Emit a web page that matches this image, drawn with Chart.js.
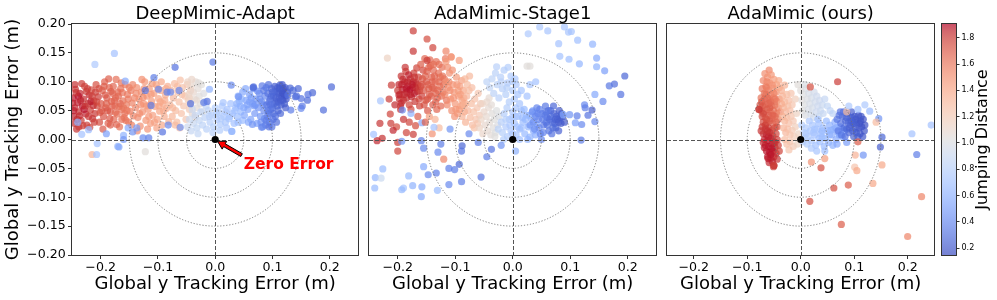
<!DOCTYPE html>
<html><head><meta charset="utf-8">
<script src="https://cdn.jsdelivr.net/npm/chart.js@4.4.1/dist/chart.umd.min.js"></script>
<style>
html,body{margin:0;padding:0;background:#fff;}
#wrap{position:relative;width:997px;height:300px;overflow:hidden;background:#fff;}
canvas{position:absolute;top:0;}
</style></head><body>
<div id="wrap">
<canvas id="c1" width="362" height="300" style="left:0px"></canvas>
<canvas id="c2" width="300" height="300" style="left:360px"></canvas>
<canvas id="c3" width="276" height="300" style="left:662px"></canvas>
<canvas id="cb" width="59" height="300" style="left:938px"></canvas>
</div>
<script>
// ---------------- DATA ----------------
const panelTitles = ['DeepMimic-Adapt', 'AdaMimic-Stage1', 'AdaMimic (ours)'];
const axisLabel = 'Global y Tracking Error (m)';
const colorbarLabel = 'Jumping Distance';
const xTickValues = [-0.2, -0.1, 0, 0.1, 0.2];
const xTickLabels = ['\u22120.2', '\u22120.1', '0.0', '0.1', '0.2'];
const yTickValues = [-0.2, -0.15, -0.1, -0.05, 0, 0.05, 0.1, 0.15, 0.2];
const yTickLabels = ['\u22120.20', '\u22120.15', '\u22120.10', '\u22120.05', '0.00', '0.05', '0.10', '0.15', '0.20'];
const colorbarTicks = [0.2, 0.4, 0.6, 0.8, 1.0, 1.2, 1.4, 1.6, 1.8];
const colorbarRange = [0.149, 1.904];
const circleRadii = [0.05, 0.1, 0.15];
const zeroErrorText = 'Zero Error';

// each point: [x error, y error, jumping distance]
const deepMimicPoints = [
[-0.248,0.072,1.88],[-0.245,0.055,1.85],[-0.247,0.040,1.86],[-0.244,0.087,1.82],[-0.246,0.028,1.84],[-0.240,0.064,1.87],[-0.238,0.048,1.83],[-0.236,0.080,1.85],[-0.234,0.033,1.80],[-0.232,0.058,1.88],[-0.230,0.070,1.84],[-0.228,0.092,1.78],[-0.226,0.044,1.86],[-0.224,0.025,1.79],[-0.222,0.062,1.82],[-0.220,0.077,1.85],[-0.218,0.051,1.80],[-0.216,0.086,1.76],[-0.214,0.036,1.83],[-0.212,0.067,1.78],[-0.210,0.045,1.81],[-0.208,0.095,1.74],[-0.206,0.058,1.77],[-0.204,0.074,1.80],[-0.202,0.030,1.75],[-0.242,0.018,1.82],[-0.233,0.097,1.80],[-0.219,0.021,1.77],[-0.239,0.075,1.90],[-0.229,0.052,1.89],[-0.249,0.063,1.86],[-0.213,0.059,1.84],[-0.225,0.083,1.81],[-0.209,0.082,1.79],[-0.237,0.041,1.85],[-0.217,0.066,1.87],[-0.201,0.047,1.74],[-0.243,0.081,1.83],[-0.231,0.024,1.79],
[-0.247,0.050,1.87],[-0.241,0.035,1.84],[-0.235,0.068,1.86],[-0.227,0.058,1.83],[-0.221,0.040,1.82],[-0.215,0.075,1.80],[-0.207,0.065,1.78],[-0.203,0.088,1.76],[-0.211,0.030,1.79],[-0.223,0.088,1.80],[-0.245,0.095,1.83],[-0.238,0.022,1.81],
[-0.199,0.062,1.72],[-0.197,0.085,1.70],[-0.195,0.040,1.73],[-0.193,0.100,1.68],[-0.191,0.055,1.70],[-0.189,0.072,1.71],[-0.187,0.028,1.68],[-0.185,0.090,1.67],[-0.183,0.048,1.69],[-0.181,0.066,1.66],[-0.179,0.080,1.67],[-0.177,0.035,1.65],[-0.175,0.058,1.66],[-0.173,0.104,1.63],[-0.171,0.044,1.64],[-0.169,0.075,1.65],[-0.167,0.022,1.62],[-0.165,0.088,1.63],[-0.163,0.052,1.61],[-0.161,0.067,1.62],[-0.159,0.038,1.60],[-0.157,0.095,1.60],[-0.155,0.060,1.59],[-0.153,0.078,1.60],[-0.151,0.030,1.58],[-0.149,0.049,1.57],[-0.147,0.085,1.58],[-0.145,0.063,1.56],[-0.143,0.041,1.56],[-0.141,0.072,1.55],[-0.196,0.018,1.71],[-0.186,0.105,1.69],[-0.178,0.092,1.66],[-0.172,0.026,1.67],[-0.164,0.098,1.62],[-0.158,0.045,1.63],[-0.152,0.070,1.60],[-0.146,0.025,1.57],[-0.188,0.050,1.73],[-0.182,0.083,1.70],[-0.176,0.068,1.68],[-0.168,0.057,1.64],[-0.162,0.081,1.61],[-0.156,0.033,1.61],[-0.192,0.077,1.72],[-0.184,0.036,1.71],[-0.174,0.047,1.65],[-0.166,0.062,1.66],
[-0.198,0.050,1.72],[-0.190,0.062,1.70],[-0.180,0.058,1.68],[-0.170,0.082,1.65],[-0.160,0.055,1.62],[-0.150,0.090,1.58],[-0.194,0.092,1.70],[-0.183,0.025,1.70],[-0.174,0.072,1.66],[-0.163,0.035,1.63],[-0.154,0.050,1.60],[-0.144,0.095,1.56],
[-0.139,0.055,1.54],[-0.137,0.090,1.52],[-0.135,0.038,1.53],[-0.133,0.070,1.52],[-0.131,0.023,1.51],[-0.129,0.082,1.50],[-0.127,0.048,1.50],[-0.125,0.062,1.49],[-0.123,0.100,1.48],[-0.121,0.033,1.48],[-0.119,0.075,1.47],[-0.117,0.052,1.47],[-0.115,0.088,1.46],[-0.113,0.028,1.45],[-0.111,0.066,1.46],[-0.109,0.042,1.44],[-0.107,0.080,1.44],[-0.105,0.057,1.43],[-0.103,0.095,1.42],[-0.101,0.035,1.42],[-0.099,0.071,1.41],[-0.097,0.049,1.41],[-0.095,0.085,1.40],[-0.093,0.025,1.40],[-0.091,0.062,1.39],[-0.089,0.040,1.38],[-0.087,0.077,1.38],[-0.085,0.054,1.37],[-0.083,0.092,1.37],[-0.081,0.031,1.36],[-0.136,0.015,1.53],[-0.128,0.104,1.51],[-0.118,0.018,1.49],[-0.110,0.097,1.46],[-0.102,0.020,1.43],[-0.094,0.100,1.40],[-0.126,0.073,1.52],[-0.114,0.060,1.45],[-0.098,0.058,1.41],[-0.088,0.068,1.39],
[-0.138,0.080,1.53],[-0.132,0.045,1.52],[-0.124,0.088,1.50],[-0.120,0.058,1.48],[-0.112,0.078,1.46],[-0.106,0.030,1.44],[-0.100,0.088,1.42],[-0.096,0.065,1.41],[-0.090,0.050,1.39],[-0.086,0.088,1.38],[-0.130,0.060,1.51],[-0.116,0.040,1.47],
[-0.079,0.060,1.34],[-0.077,0.085,1.33],[-0.075,0.040,1.33],[-0.073,0.072,1.32],[-0.071,0.097,1.30],[-0.069,0.050,1.30],[-0.067,0.030,1.29],[-0.065,0.082,1.28],[-0.063,0.065,1.27],[-0.061,0.103,1.27],[-0.059,0.045,1.26],[-0.057,0.090,1.25],[-0.055,0.058,1.24],[-0.053,0.075,1.24],[-0.051,0.035,1.23],[-0.049,0.095,1.22],[-0.047,0.068,1.21],[-0.045,0.052,1.21],[-0.043,0.085,1.20],[-0.070,0.025,1.31],[-0.062,0.020,1.28],[-0.074,0.055,1.33],[-0.066,0.092,1.30],[-0.058,0.078,1.26],
[-0.048,0.100,1.14],[-0.046,0.078,1.13],[-0.044,0.062,1.12],[-0.042,0.092,1.11],[-0.040,0.045,1.10],[-0.038,0.082,1.10],[-0.036,0.070,1.08],[-0.034,0.100,1.07],[-0.032,0.055,1.07],[-0.030,0.088,1.06],[-0.028,0.075,1.05],[-0.026,0.062,1.04],[-0.024,0.095,1.03],[-0.022,0.048,1.02],[-0.020,0.080,1.01],[-0.041,0.104,1.12],[-0.035,0.038,1.09],[-0.029,0.098,1.05],[-0.018,0.066,1.00],[-0.045,0.072,1.14],[-0.033,0.068,1.08],
[-0.048,0.022,0.92],[-0.045,0.035,0.90],[-0.042,0.015,0.88],[-0.038,0.028,0.89],[-0.035,0.042,0.88],[-0.032,0.020,0.86],[-0.028,0.033,0.86],[-0.025,0.048,0.85],[-0.022,0.025,0.84],[-0.018,0.038,0.83],[-0.015,0.018,0.82],[-0.012,0.050,0.82],[-0.009,0.030,0.80],[-0.006,0.042,0.80],[-0.003,0.022,0.79],[0.000,0.055,0.78],[0.003,0.035,0.77],[0.006,0.047,0.76],[0.009,0.026,0.76],[0.012,0.058,0.75],[0.015,0.040,0.74],[0.018,0.030,0.73],[0.021,0.052,0.72],[0.024,0.036,0.71],[0.027,0.062,0.70],[0.030,0.045,0.69],[0.033,0.028,0.69],[0.036,0.055,0.68],[0.039,0.040,0.67],[0.042,0.066,0.66],[0.045,0.048,0.65],[0.048,0.033,0.66],[-0.040,0.052,0.91],[-0.030,0.010,0.87],[-0.016,0.058,0.84],[-0.004,0.012,0.81],[0.008,0.016,0.78],[0.020,0.020,0.74],[0.029,0.014,0.73],[0.014,0.064,0.72],
[-0.010,0.040,0.81],[0.002,0.045,0.78],[0.010,0.036,0.76],[0.018,0.048,0.74],[0.026,0.040,0.71],[0.034,0.050,0.68],[0.040,0.030,0.66],[0.050,0.055,0.58],[0.060,0.065,0.52],[0.070,0.060,0.46],[0.078,0.070,0.42],[0.084,0.060,0.38],
[0.040,0.075,0.58],[0.044,0.058,0.57],[0.048,0.082,0.55],[0.051,0.042,0.56],[0.054,0.068,0.53],[0.057,0.052,0.52],[0.060,0.078,0.50],[0.062,0.035,0.52],[0.065,0.062,0.48],[0.067,0.088,0.45],[0.069,0.045,0.48],[0.071,0.070,0.45],[0.073,0.028,0.50],[0.075,0.055,0.44],[0.077,0.080,0.42],[0.079,0.040,0.45],[0.081,0.065,0.41],[0.083,0.022,0.46],[0.085,0.050,0.40],[0.087,0.075,0.39],[0.046,0.070,0.60],[0.053,0.088,0.55],[0.058,0.030,0.55],[0.063,0.072,0.50],[0.068,0.058,0.47],[0.074,0.084,0.43],[0.080,0.030,0.44],[0.086,0.036,0.42],[0.038,0.062,0.60],[0.056,0.060,0.52],
[0.090,0.060,0.33],[0.092,0.080,0.30],[0.094,0.045,0.32],[0.096,0.070,0.28],[0.098,0.088,0.26],[0.100,0.055,0.29],[0.102,0.075,0.25],[0.104,0.092,0.22],[0.105,0.040,0.30],[0.106,0.065,0.24],[0.108,0.083,0.21],[0.110,0.050,0.26],[0.112,0.072,0.20],[0.113,0.094,0.20],[0.115,0.060,0.22],[0.117,0.085,0.19],[0.118,0.068,0.20],[0.120,0.078,0.18],[0.122,0.090,0.18],[0.124,0.070,0.19],[0.126,0.082,0.18],[0.095,0.030,0.33],[0.099,0.022,0.31],[0.101,0.035,0.30],[0.093,0.095,0.28],[0.097,0.052,0.30],[0.103,0.062,0.27],[0.107,0.030,0.28],[0.109,0.090,0.22],[0.111,0.080,0.21],[0.114,0.045,0.25],[0.116,0.075,0.20],[0.119,0.088,0.19],[0.121,0.062,0.21],[0.089,0.090,0.32],[0.091,0.040,0.34],[0.088,0.025,0.35],[0.085,0.085,0.33],[0.082,0.093,0.34],[0.123,0.055,0.22],[0.110,0.065,0.23],[0.104,0.082,0.24],[0.098,0.075,0.27],[0.094,0.065,0.30],[0.117,0.095,0.20],
[0.096,0.060,0.30],[0.100,0.082,0.26],[0.106,0.072,0.24],[0.112,0.088,0.21],[0.118,0.080,0.19],[0.122,0.075,0.19],[0.114,0.068,0.22],[0.108,0.058,0.25],[0.102,0.045,0.28],[0.092,0.050,0.32],
[0.131,0.089,0.25],[0.140,0.074,0.28],[0.150,0.071,0.30],[0.161,0.068,0.27],[0.170,0.081,0.25],[0.189,0.051,0.28],[0.203,0.091,0.26],[0.132,0.051,0.35],[0.150,0.054,0.40],[0.162,0.078,0.30],[0.152,0.058,0.34],[0.142,0.075,0.29],[0.127,0.077,0.30],[0.136,0.085,0.27],[0.145,0.088,0.25],[0.067,0.091,0.30],[-0.004,0.134,0.32],[0.029,0.014,0.60],[0.065,0.026,0.45],[0.081,0.021,0.38],[0.094,0.022,0.30],[0.089,0.033,0.35],[0.028,0.094,0.40],[0.041,0.074,0.45],[0.066,0.090,0.28],
[-0.233,0.009,0.70],[-0.221,0.017,0.65],[-0.160,0.007,0.60],[-0.170,-0.012,0.60],[-0.137,0.020,0.50],[-0.126,0.003,0.40],[-0.116,0.003,0.35],[-0.144,0.013,0.45],[-0.092,0.013,0.30],[-0.082,0.025,0.40],[-0.061,0.021,0.45],[-0.070,0.125,0.30],[-0.107,0.107,0.35],[-0.099,0.087,0.40],[-0.122,0.085,0.30],[-0.084,0.082,0.35],[-0.078,0.082,0.40],[-0.014,0.066,0.30],[-0.020,0.064,0.35],[-0.157,0.101,0.55],[-0.112,0.059,0.35],[-0.063,0.085,0.40],[-0.043,0.062,0.28],[-0.010,0.087,0.60],[-0.176,0.149,0.70],[-0.210,0.130,0.75],[-0.206,-0.007,0.70],[-0.168,-0.013,0.55],[-0.122,-0.021,1.05],[-0.160,0.000,0.45],[-0.215,-0.026,1.35],[-0.207,-0.026,0.70],[-0.240,0.030,0.60],[-0.190,0.010,0.50],[-0.152,0.020,0.55]
];

const stage1Points = [
[-0.198,0.095,1.85],[-0.196,0.078,1.83],[-0.194,0.110,1.82],[-0.192,0.087,1.88],[-0.190,0.068,1.80],[-0.188,0.100,1.86],[-0.186,0.118,1.80],[-0.184,0.082,1.87],[-0.182,0.093,1.89],[-0.180,0.060,1.78],[-0.178,0.105,1.84],[-0.176,0.074,1.85],[-0.174,0.090,1.88],[-0.172,0.115,1.79],[-0.170,0.066,1.81],[-0.168,0.098,1.83],[-0.166,0.083,1.84],[-0.164,0.108,1.78],[-0.162,0.058,1.77],[-0.160,0.092,1.80],[-0.158,0.075,1.79],[-0.156,0.120,1.76],[-0.195,0.058,1.80],[-0.187,0.125,1.82],[-0.181,0.112,1.86],[-0.177,0.052,1.76],[-0.171,0.080,1.87],[-0.167,0.124,1.77],[-0.163,0.070,1.78],[-0.185,0.072,1.84],[-0.179,0.086,1.90],[-0.173,0.100,1.86],[-0.191,0.104,1.84],[-0.169,0.090,1.85],[-0.200,0.085,1.81],
[-0.193,0.095,1.86],[-0.185,0.088,1.88],[-0.178,0.078,1.86],[-0.171,0.108,1.82],[-0.165,0.095,1.82],[-0.189,0.078,1.85],[-0.175,0.095,1.87],[-0.183,0.100,1.85],[-0.162,0.085,1.80],[-0.197,0.070,1.83],
[-0.160,0.130,1.70],[-0.157,0.105,1.72],[-0.155,0.085,1.73],[-0.153,0.140,1.66],[-0.151,0.068,1.72],[-0.149,0.118,1.69],[-0.147,0.095,1.70],[-0.145,0.078,1.71],[-0.143,0.128,1.66],[-0.141,0.108,1.67],[-0.139,0.060,1.69],[-0.137,0.088,1.68],[-0.135,0.100,1.66],[-0.133,0.135,1.63],[-0.131,0.072,1.66],[-0.129,0.115,1.64],[-0.127,0.092,1.64],[-0.125,0.058,1.65],[-0.123,0.125,1.62],[-0.121,0.082,1.62],[-0.119,0.105,1.61],[-0.117,0.140,1.60],[-0.115,0.068,1.61],[-0.154,0.060,1.74],[-0.148,0.050,1.72],[-0.144,0.138,1.65],[-0.138,0.120,1.65],[-0.132,0.052,1.67],[-0.126,0.108,1.63],[-0.120,0.094,1.62],[-0.150,0.100,1.71],[-0.142,0.075,1.70],[-0.136,0.110,1.67],[-0.130,0.085,1.65],[-0.124,0.075,1.64],[-0.158,0.095,1.73],[-0.146,0.125,1.68],[-0.140,0.090,1.69],[-0.134,0.065,1.68],[-0.128,0.130,1.63],
[-0.152,0.110,1.70],[-0.146,0.088,1.70],[-0.140,0.100,1.68],[-0.134,0.080,1.67],[-0.128,0.100,1.65],[-0.122,0.110,1.62],[-0.148,0.070,1.72],[-0.138,0.130,1.64],
[-0.118,0.078,1.55],[-0.116,0.100,1.53],[-0.114,0.060,1.54],[-0.112,0.090,1.52],[-0.110,0.115,1.50],[-0.108,0.070,1.51],[-0.106,0.050,1.52],[-0.104,0.095,1.49],[-0.102,0.082,1.48],[-0.100,0.062,1.48],[-0.098,0.108,1.46],[-0.096,0.045,1.47],[-0.094,0.075,1.45],[-0.092,0.092,1.44],[-0.090,0.058,1.44],[-0.088,0.068,1.42],[-0.086,0.085,1.41],[-0.084,0.048,1.41],[-0.082,0.062,1.40],[-0.113,0.125,1.52],[-0.105,0.120,1.50],[-0.097,0.095,1.47],[-0.089,0.102,1.44],[-0.101,0.040,1.50],[-0.093,0.052,1.46],[-0.109,0.085,1.51],[-0.085,0.072,1.42],[-0.116,0.135,1.48],[-0.107,0.143,1.45],[-0.093,0.137,1.45],
[-0.111,0.100,1.52],[-0.103,0.072,1.49],[-0.095,0.085,1.46],[-0.087,0.060,1.43],[-0.099,0.052,1.48],[-0.091,0.078,1.45],
[-0.088,0.040,1.35],[-0.085,0.060,1.34],[-0.082,0.030,1.34],[-0.080,0.075,1.32],[-0.078,0.050,1.32],[-0.076,0.085,1.30],[-0.074,0.038,1.30],[-0.072,0.062,1.29],[-0.070,0.025,1.28],[-0.068,0.048,1.27],[-0.066,0.070,1.26],[-0.064,0.035,1.25],[-0.062,0.055,1.24],[-0.060,0.080,1.24],[-0.058,0.042,1.22],[-0.056,0.062,1.21],[-0.079,0.095,1.30],[-0.071,0.090,1.28],[-0.067,0.020,1.27],[-0.061,0.028,1.25],[-0.083,0.105,1.33],[-0.075,0.110,1.31],
[-0.058,0.020,1.15],[-0.055,0.035,1.13],[-0.052,0.010,1.12],[-0.050,0.048,1.12],[-0.048,0.025,1.10],[-0.046,0.040,1.09],[-0.044,0.015,1.08],[-0.042,0.055,1.08],[-0.040,0.030,1.07],[-0.038,0.008,1.06],[-0.036,0.045,1.05],[-0.034,0.020,1.04],[-0.032,0.035,1.03],[-0.030,0.012,1.02],[-0.028,0.050,1.02],[-0.026,0.025,1.01],[-0.024,0.040,1.00],[-0.053,0.062,1.14],[-0.045,0.065,1.11],[-0.037,0.060,1.06],[-0.031,0.005,1.03],[-0.041,0.072,1.08],
[-0.040,0.090,0.85],[-0.036,0.105,0.84],[-0.033,0.080,0.83],[-0.030,0.115,0.82],[-0.027,0.095,0.82],[-0.024,0.072,0.81],[-0.021,0.108,0.80],[-0.018,0.088,0.80],[-0.015,0.120,0.78],[-0.012,0.078,0.79],[-0.009,0.098,0.77],[-0.006,0.065,0.78],[-0.003,0.110,0.76],[0.000,0.085,0.76],[0.003,0.070,0.75],[0.006,0.095,0.74],[0.009,0.078,0.73],[0.012,0.062,0.72],[-0.045,0.100,0.84],[-0.028,0.126,0.81],[-0.008,0.125,0.78],[0.004,0.105,0.74],[0.015,0.085,0.71],
[-0.020,0.100,0.81],[-0.010,0.090,0.79],[0.000,0.100,0.76],
[-0.020,0.030,0.80],[-0.018,0.012,0.79],[-0.015,0.045,0.78],[-0.012,0.022,0.77],[-0.009,0.005,0.76],[-0.006,0.035,0.75],[-0.003,0.015,0.74],[0.000,0.048,0.73],[0.003,0.028,0.72],[0.006,0.008,0.71],[0.009,0.040,0.70],[0.012,0.018,0.68],[0.015,0.050,0.67],[0.018,0.030,0.66],[0.021,0.010,0.64],[0.024,0.042,0.63],[0.027,0.022,0.62],[0.030,0.004,0.60],[0.033,0.035,0.58],[0.036,0.015,0.57],[0.039,0.045,0.56],[0.042,0.026,0.55],[-0.010,0.055,0.78],[0.005,0.055,0.72],[0.020,0.052,0.65],[-0.016,0.000,0.78],[0.012,0.000,0.68],[-0.025,0.018,0.82],[0.026,0.000,0.62],[0.035,0.050,0.58],[0.008,0.022,0.70],[-0.001,0.038,0.74],[0.017,0.038,0.66],[0.029,0.042,0.60],[0.040,0.008,0.58],
[-0.005,0.025,0.75],[0.005,0.040,0.72],[0.015,0.020,0.68],[0.022,0.035,0.64],[-0.012,0.035,0.78],[0.000,0.010,0.74],
[0.030,0.025,0.45],[0.034,0.048,0.42],[0.038,0.018,0.42],[0.042,0.055,0.38],[0.045,0.035,0.38],[0.048,0.010,0.40],[0.051,0.045,0.35],[0.054,0.025,0.34],[0.057,0.058,0.32],[0.060,0.038,0.30],[0.063,0.015,0.31],[0.066,0.050,0.28],[0.069,0.030,0.26],[0.072,0.045,0.24],[0.075,0.020,0.25],[0.078,0.035,0.22],[0.081,0.050,0.22],[0.084,0.028,0.20],[0.087,0.040,0.19],[0.090,0.030,0.20],[0.040,0.040,0.40],[0.047,0.052,0.36],[0.053,0.012,0.36],[0.058,0.030,0.31],[0.062,0.050,0.29],[0.068,0.010,0.30],[0.071,0.058,0.26],[0.076,0.040,0.23],[0.080,0.015,0.24],[0.085,0.045,0.21],[0.064,0.035,0.28],[0.056,0.042,0.33],[0.073,0.028,0.25],[0.050,0.000,0.38],[0.082,0.038,0.21],
[0.036,0.030,0.42],[0.044,0.045,0.38],[0.052,0.035,0.35],[0.060,0.025,0.31],[0.066,0.040,0.28],[0.074,0.035,0.24],[0.080,0.030,0.22],[0.070,0.020,0.27],[0.058,0.048,0.32],[0.046,0.020,0.40],
[0.047,0.195,0.75],[0.061,0.188,0.72],[0.027,0.183,0.75],[0.090,0.195,0.72],[0.102,0.187,0.70],[0.113,0.172,0.68],[0.080,0.166,0.70],[0.139,0.165,0.62],[0.082,0.144,0.70],[0.098,0.139,0.68],[0.116,0.131,0.62],[0.146,0.141,0.55],[0.146,0.126,0.60],[0.160,0.119,0.50],[0.195,0.110,0.25],[0.177,0.096,0.28],[0.168,0.093,0.32],[0.188,0.078,0.30],[0.157,0.066,0.40],[0.143,0.078,0.55],[0.125,0.060,0.40],[0.126,0.055,0.35],[0.138,0.051,0.22],[0.131,0.042,0.30],[0.143,0.031,0.40],[0.099,0.043,0.45],[0.088,0.043,0.55],[0.112,0.041,0.35],[0.109,0.029,0.50],[0.120,0.026,0.40],[0.119,-0.001,0.35],[0.025,0.127,1.05],[0.030,0.127,1.05],[0.040,0.100,0.70],[0.030,0.095,0.72],[0.025,0.075,0.70],[0.097,0.186,0.72],
[-0.155,-0.015,0.40],[-0.125,-0.008,0.35],[-0.130,-0.022,0.40],[-0.120,-0.034,1.55],[-0.088,-0.011,0.25],[-0.089,-0.020,0.30],[-0.037,-0.017,0.30],[-0.093,-0.043,0.25],[-0.111,-0.050,0.35],[-0.101,-0.052,0.35],[-0.133,-0.058,0.35],[-0.147,-0.061,0.40],[-0.155,-0.047,0.55],[-0.055,-0.065,0.30],[-0.089,-0.073,0.35],[-0.111,-0.078,0.40],[-0.181,-0.063,0.65],[-0.226,-0.051,0.65],[-0.239,-0.066,0.62],[-0.229,-0.067,0.90],[-0.174,-0.080,0.60],[-0.190,-0.084,0.70],[-0.193,-0.087,0.65],[-0.158,-0.082,0.55],[-0.131,-0.088,0.65],[-0.159,-0.099,0.55],[-0.240,-0.084,0.65],
[-0.231,0.028,1.82],[-0.213,0.044,1.78],[-0.212,0.028,1.80],[-0.202,0.022,1.75],[-0.208,0.016,1.85],[-0.227,0.002,1.83],[-0.236,-0.002,1.85],[-0.200,-0.005,1.80],[-0.200,-0.020,1.78],[-0.173,0.009,1.80],[-0.169,0.024,1.75],[-0.185,0.012,1.78],[-0.211,0.094,1.80],[-0.198,0.077,1.85],[-0.194,0.063,1.85],[-0.195,0.052,1.82],[-0.173,0.188,1.80],[-0.149,0.174,1.75],[-0.139,0.159,1.78],[-0.173,0.153,1.82],[-0.218,0.141,1.15],[-0.116,0.153,1.55],[-0.149,0.137,1.80],[-0.107,0.143,1.50],
[-0.230,0.067,0.72],[-0.242,0.009,0.70],[-0.192,0.051,0.40],[-0.177,0.045,0.60],[-0.158,0.029,0.55],
[-0.190,0.035,1.82],[-0.180,0.030,1.78],[-0.205,0.060,1.84],[-0.215,0.070,1.80],[-0.165,0.040,1.70],[-0.152,0.030,1.70],[-0.145,0.040,1.45],[-0.135,0.035,1.35],[-0.128,0.020,1.30],[-0.140,0.010,1.50],
[-0.193,-0.003,0.45],[-0.159,-0.002,0.35],[-0.137,0.021,0.70],[-0.109,0.018,0.45],[-0.076,0.010,0.40],[-0.060,-0.005,0.35],[-0.045,-0.030,0.35],[-0.020,-0.010,0.45],[0.005,-0.020,0.60]
];

const adaMimicPoints = [
[-0.059,0.120,1.55],[-0.067,0.114,1.52],[-0.062,0.108,1.50],[-0.055,0.112,1.48],[-0.070,0.102,1.55],[-0.058,0.098,1.52],[-0.050,0.104,1.45],[-0.065,0.092,1.58],[-0.045,0.095,1.42],[-0.072,0.088,1.60],[-0.060,0.085,1.57],[-0.052,0.088,1.50],[-0.040,0.090,1.40],[-0.068,0.080,1.62],[-0.056,0.078,1.58],[-0.046,0.082,1.48],[-0.074,0.072,1.62],[-0.036,0.085,1.38],[-0.063,0.100,1.54],[-0.053,0.094,1.50],[-0.030,0.094,1.35],[-0.041,0.102,1.40],
[-0.073,0.065,1.70],[-0.068,0.070,1.68],[-0.062,0.072,1.66],[-0.057,0.068,1.64],[-0.051,0.072,1.60],[-0.045,0.066,1.58],[-0.071,0.058,1.72],[-0.066,0.060,1.70],[-0.060,0.062,1.68],[-0.054,0.058,1.66],[-0.048,0.060,1.62],[-0.042,0.055,1.58],[-0.074,0.050,1.74],[-0.069,0.048,1.72],[-0.063,0.052,1.70],[-0.057,0.048,1.68],[-0.051,0.050,1.64],[-0.045,0.045,1.62],[-0.072,0.040,1.75],[-0.066,0.038,1.73],[-0.060,0.042,1.71],[-0.054,0.036,1.69],[-0.048,0.040,1.66],[-0.042,0.035,1.62],[-0.070,0.030,1.76],[-0.064,0.028,1.75],[-0.058,0.032,1.72],[-0.052,0.028,1.70],[-0.046,0.030,1.66],[-0.078,0.052,1.80],[-0.065,0.078,1.64],[-0.050,0.080,1.55],[-0.038,0.048,1.55],[-0.040,0.070,1.52],[-0.076,0.060,1.72],
[-0.070,0.045,1.76],[-0.064,0.035,1.74],[-0.058,0.055,1.70],[-0.052,0.042,1.68],[-0.066,0.025,1.78],[-0.044,0.022,1.72],[-0.056,0.065,1.66],[-0.064,0.090,1.58],[-0.048,0.070,1.60],
[-0.072,0.022,1.80],[-0.066,0.018,1.82],[-0.060,0.020,1.80],[-0.054,0.016,1.78],[-0.048,0.020,1.75],[-0.070,0.010,1.84],[-0.064,0.008,1.86],[-0.058,0.012,1.84],[-0.052,0.006,1.82],[-0.046,0.010,1.78],[-0.068,0.000,1.86],[-0.062,-0.002,1.88],[-0.056,0.002,1.86],[-0.050,-0.004,1.84],[-0.044,0.000,1.80],[-0.066,-0.010,1.88],[-0.060,-0.012,1.89],[-0.054,-0.008,1.87],[-0.048,-0.014,1.85],[-0.042,-0.010,1.80],[-0.064,-0.020,1.88],[-0.058,-0.022,1.90],[-0.052,-0.020,1.87],[-0.046,-0.024,1.84],[-0.062,-0.030,1.88],[-0.056,-0.032,1.86],[-0.050,-0.030,1.85],[-0.044,-0.034,1.82],[-0.059,-0.040,1.85],[-0.053,-0.038,1.86],[-0.061,-0.033,1.87],[-0.050,-0.045,1.80],[-0.070,-0.005,1.85],[-0.074,0.015,1.82],[-0.040,-0.020,1.78],[-0.051,-0.047,1.80],
[-0.060,0.005,1.86],[-0.054,-0.015,1.88],[-0.048,-0.005,1.84],[-0.062,0.015,1.83],[-0.056,-0.026,1.88],[-0.068,-0.014,1.87],
[-0.034,0.075,1.35],[-0.030,0.065,1.33],[-0.026,0.078,1.30],[-0.022,0.068,1.28],[-0.018,0.080,1.25],[-0.032,0.055,1.34],[-0.028,0.048,1.32],[-0.024,0.058,1.30],[-0.020,0.050,1.28],[-0.016,0.060,1.24],[-0.034,0.040,1.36],[-0.030,0.032,1.34],[-0.026,0.038,1.30],[-0.022,0.028,1.28],[-0.018,0.040,1.25],[-0.014,0.032,1.22],[-0.032,0.020,1.34],[-0.028,0.012,1.32],[-0.024,0.018,1.28],[-0.020,0.008,1.26],[-0.016,0.016,1.22],[-0.012,0.005,1.20],[-0.030,0.000,1.30],[-0.026,-0.008,1.28],[-0.020,-0.004,1.25],[-0.014,-0.012,1.22],[-0.010,0.022,1.18],[-0.008,0.045,1.15],[-0.004,0.010,1.15],[-0.036,0.062,1.38],[-0.010,0.070,1.18],[-0.022,-0.018,1.24],[-0.006,-0.008,1.15],
[0.000,0.085,1.05],[0.005,0.078,1.02],[0.010,0.088,1.00],[0.015,0.080,0.98],[0.020,0.072,0.96],[0.025,0.082,0.95],[0.030,0.075,0.93],[0.035,0.068,0.92],[0.040,0.060,0.90],[0.045,0.070,0.88],[0.002,0.068,1.04],[0.007,0.060,1.02],[0.012,0.070,1.00],[0.017,0.062,0.98],[0.022,0.055,0.96],[0.027,0.065,0.94],[0.032,0.058,0.92],[0.037,0.050,0.90],[0.042,0.045,0.88],[0.004,0.050,1.03],[0.009,0.042,1.00],[0.014,0.052,0.98],[0.019,0.044,0.96],[0.024,0.038,0.94],[0.029,0.048,0.92],[0.050,0.058,0.86],[0.055,0.050,0.85],[-0.005,0.095,1.05],[0.008,0.095,1.00],[0.060,0.045,0.84],[0.034,0.040,0.90],
[0.002,0.025,0.80],[0.006,0.012,0.78],[0.010,0.020,0.76],[0.014,0.005,0.75],[0.018,0.015,0.73],[0.022,0.025,0.72],[0.026,0.008,0.70],[0.030,0.018,0.69],[0.034,0.028,0.68],[0.038,0.010,0.66],[0.042,0.020,0.65],[0.046,0.002,0.64],[0.050,0.015,0.62],[0.054,0.025,0.60],[0.058,0.008,0.58],[0.062,0.018,0.57],[0.066,0.000,0.56],[0.070,0.012,0.54],[0.074,0.022,0.52],[0.078,0.005,0.52],[0.082,0.015,0.50],[0.086,-0.005,0.50],[0.004,-0.004,0.78],[0.012,-0.008,0.76],[0.020,-0.002,0.74],[0.028,-0.010,0.70],[0.036,-0.004,0.68],[0.044,-0.012,0.66],[0.052,-0.005,0.62],[0.060,-0.010,0.60],[0.068,-0.008,0.56],[0.016,0.032,0.75],[0.032,0.035,0.70],[0.048,0.032,0.65],[0.064,0.030,0.58],[0.024,0.012,0.72],[0.040,0.004,0.67],[0.056,0.016,0.60],[0.072,0.008,0.55],[0.008,0.002,0.78],[0.030,-0.020,0.72],[0.045,-0.020,0.68],[0.020,-0.015,0.75],
[0.010,0.010,0.77],[0.026,0.018,0.71],[0.040,0.015,0.66],[0.054,0.008,0.61],[0.066,0.020,0.56],[0.078,0.018,0.51],[0.034,0.002,0.68],
[0.068,0.035,0.32],[0.072,0.042,0.30],[0.075,0.028,0.30],[0.078,0.040,0.28],[0.081,0.020,0.28],[0.084,0.032,0.26],[0.087,0.045,0.24],[0.090,0.012,0.26],[0.093,0.025,0.23],[0.096,0.038,0.21],[0.099,0.005,0.24],[0.102,0.018,0.21],[0.105,0.030,0.19],[0.108,0.042,0.18],[0.111,0.010,0.20],[0.114,0.022,0.18],[0.117,0.035,0.17],[0.119,0.015,0.18],[0.070,0.015,0.34],[0.076,0.008,0.32],[0.083,0.005,0.30],[0.089,0.030,0.25],[0.095,0.048,0.22],[0.101,0.040,0.20],[0.107,0.005,0.22],[0.113,0.040,0.18],[0.098,0.028,0.22],[0.092,0.038,0.24],[0.086,0.018,0.27],[0.110,0.028,0.19],[0.104,0.012,0.21],[0.080,0.048,0.28],[0.120,0.025,0.17],[0.116,0.005,0.19],[0.074,0.048,0.30],
[0.085,0.038,0.25],[0.091,0.020,0.24],[0.097,0.015,0.22],[0.103,0.035,0.20],[0.109,0.020,0.19],[0.100,0.028,0.21],[0.094,0.032,0.23],[0.112,0.032,0.18],
[0.244,0.025,0.70],[0.208,0.010,0.70],[0.217,-0.026,0.35],[0.152,0.004,0.25],[0.149,-0.013,0.22],[0.129,0.049,0.65],[0.107,0.052,0.68],[0.146,0.036,0.45],[0.141,0.030,1.30],[0.102,-0.027,1.35],[0.117,-0.027,0.45],[0.152,-0.044,1.40],[0.101,-0.048,1.25],[0.105,-0.054,1.40],[0.038,-0.049,1.75],[0.020,-0.039,1.50],[0.045,-0.033,1.45],[-0.050,-0.045,1.80],[0.069,0.100,1.80],[0.018,0.091,1.75],[-0.078,0.052,1.80],[0.107,-0.004,1.70],[0.086,0.048,1.30],[0.062,-0.084,1.75],[0.089,-0.079,1.70],[0.135,-0.076,1.40],[0.017,-0.107,1.75],[0.076,-0.147,1.70],[0.200,-0.168,1.55],[0.226,-0.099,1.55],[0.120,0.060,0.75],[0.090,0.058,0.75]
];

// ---------------- COLORMAP (matplotlib coolwarm) ----------------
const COOLWARM = [[59,76,192],[68,90,204],[77,104,215],[87,117,225],[98,130,234],[108,142,241],[119,154,247],[130,165,251],[141,176,254],[152,185,255],[163,194,255],[174,201,253],[184,208,249],[194,213,244],[204,217,238],[213,219,230],[221,221,221],[229,216,209],[236,211,197],[241,204,185],[245,196,173],[247,187,160],[247,177,148],[247,166,135],[244,154,123],[241,141,111],[236,127,99],[229,112,88],[222,96,77],[213,80,66],[203,62,56],[192,40,47],[180,4,38]];
function coolwarmRGB(t) {
  t = Math.max(0, Math.min(1, t));
  const f = t * (COOLWARM.length - 1);
  const i = Math.min(COOLWARM.length - 2, Math.floor(f));
  const u = f - i, a = COOLWARM[i], b = COOLWARM[i + 1];
  return [0,1,2].map(k => Math.round(a[k] + (b[k] - a[k]) * u));
}
function coolwarm(v, alpha) {
  const c = coolwarmRGB((v - colorbarRange[0]) / (colorbarRange[1] - colorbarRange[0]));
  return 'rgba(' + c[0] + ',' + c[1] + ',' + c[2] + ',' + alpha + ')';
}

const FONT = '"DejaVu Sans", Verdana, sans-serif';
const POINT_ALPHA = 0.7;

// ---------------- PLUGINS ----------------
function framePlugin(title, annotate) {
  return {
    id: 'frame',
    afterDatasetsDraw(chart) {
      const {ctx, chartArea: a, scales: {x: xs, y: ys}} = chart;
      const x0 = xs.getPixelForValue(0), y0 = ys.getPixelForValue(0);
      ctx.save();
      ctx.beginPath(); ctx.rect(a.left, a.top, a.right - a.left, a.bottom - a.top); ctx.clip();
      ctx.strokeStyle = 'rgba(110,110,110,0.9)'; ctx.lineWidth = 1; ctx.setLineDash([1.2, 1.8]);
      circleRadii.forEach(r => {
        const rx = xs.getPixelForValue(r) - x0, ry = y0 - ys.getPixelForValue(r);
        ctx.beginPath(); ctx.ellipse(x0, y0, rx, ry, 0, 0, Math.PI * 2); ctx.stroke();
      });
      ctx.strokeStyle = '#555'; ctx.lineWidth = 1; ctx.setLineDash([4, 2]);
      ctx.beginPath(); ctx.moveTo(a.left, Math.round(y0) + 0.5); ctx.lineTo(a.right, Math.round(y0) + 0.5); ctx.stroke();
      ctx.beginPath(); ctx.moveTo(Math.round(x0) + 0.5, a.top); ctx.lineTo(Math.round(x0) + 0.5, a.bottom); ctx.stroke();
      ctx.setLineDash([]);
      ctx.fillStyle = '#000'; ctx.beginPath(); ctx.arc(x0, y0, 3.6, 0, Math.PI * 2); ctx.fill();
      if (annotate) {
        const tx = xs.getPixelForValue(0.046), ty = ys.getPixelForValue(-0.027);
        const hx = xs.getPixelForValue(0.004), hy = ys.getPixelForValue(-0.003);
        const dx = hx - tx, dy = hy - ty, L = Math.hypot(dx, dy);
        const ux = dx / L, uy = dy / L, nx = -uy, ny = ux;
        const hl = 8, hw = 4.5, sw = 1.6;
        const bx = hx - ux * hl, by = hy - uy * hl;
        ctx.beginPath();
        ctx.moveTo(tx + nx * sw, ty + ny * sw);
        ctx.lineTo(bx + nx * sw, by + ny * sw);
        ctx.lineTo(bx + nx * hw, by + ny * hw);
        ctx.lineTo(hx, hy);
        ctx.lineTo(bx - nx * hw, by - ny * hw);
        ctx.lineTo(bx - nx * sw, by - ny * sw);
        ctx.lineTo(tx - nx * sw, ty - ny * sw);
        ctx.closePath();
        ctx.fillStyle = '#ff0000'; ctx.fill();
        ctx.strokeStyle = '#000'; ctx.lineWidth = 1; ctx.stroke();
      }
      ctx.restore();
      ctx.save();
      if (annotate) {
        ctx.font = 'bold 15.5px ' + FONT; ctx.fillStyle = '#ff0000';
        ctx.textAlign = 'left'; ctx.textBaseline = 'alphabetic';
        ctx.fillText(zeroErrorText, xs.getPixelForValue(0.05), ys.getPixelForValue(-0.0515));
      }
      ctx.strokeStyle = '#333'; ctx.lineWidth = 1;
      const l = Math.round(a.left), t = Math.round(a.top), r = Math.round(a.right), b = Math.round(a.bottom);
      ctx.strokeRect(l - 0.5, t - 0.5, r - l + 1, b - t + 1);
      ctx.font = '18px ' + FONT; ctx.fillStyle = '#000'; ctx.textAlign = 'center'; ctx.textBaseline = 'alphabetic';
      ctx.fillText(title, (a.left + a.right) / 2, 18.5);
      ctx.restore();
    }
  };
}

function panel(canvasId, points, title, padLeft, padRight, showY, annotate) {
  const xScale = {
    type: 'linear', min: -0.25, max: 0.25,
    afterBuildTicks: s => { s.ticks = xTickValues.map(v => ({value: v})); },
    afterFit: s => { s.height = 45; },
    ticks: { callback: (v, i) => xTickLabels[i], font: {family: FONT, size: 12.6}, color: '#000', padding: 1.5, maxRotation: 0, minRotation: 0, autoSkip: false },
    grid: { drawOnChartArea: false, drawTicks: true, tickLength: 4, tickColor: '#333', tickWidth: 1 },
    border: { display: false },
    title: { display: true, text: axisLabel, font: {family: FONT, size: 18}, color: '#000', padding: {top: 0, bottom: 5} }
  };
  const yScale = {
    type: 'linear', min: -0.2, max: 0.2, display: showY,
    afterBuildTicks: s => { s.ticks = yTickValues.map(v => ({value: v})); },
    ticks: { callback: (v, i) => yTickLabels[i], font: {family: FONT, size: 12.6}, color: '#000', padding: 2.3, autoSkip: false },
    grid: { drawOnChartArea: false, drawTicks: true, tickLength: 4, tickColor: '#333', tickWidth: 1 },
    border: { display: false },
    title: { display: true, text: axisLabel, font: {family: FONT, size: 18}, color: '#000', padding: {top: 3, bottom: 0} },
    afterFit: s => { s.width = showY ? 72 : 0; }
  };
  return new Chart(document.getElementById(canvasId), {
    type: 'scatter',
    data: { datasets: [{
      data: points.map(p => ({x: p[0], y: p[1]})),
      pointBackgroundColor: points.map(p => coolwarm(p[2], POINT_ALPHA)),
      pointBorderWidth: 0, pointBorderColor: 'rgba(0,0,0,0)',
      pointRadius: 3.6, pointHoverRadius: 3.6
    }] },
    options: {
      responsive: false, animation: false, events: [],
      layout: { padding: { left: padLeft, right: padRight, top: 24, bottom: 0 } },
      plugins: { legend: {display: false}, tooltip: {enabled: false} },
      scales: { x: xScale, y: yScale }
    },
    plugins: [framePlugin(title, annotate)]
  });
}

panel('c1', deepMimicPoints, panelTitles[0], 0, 1, true, true);
panel('c2', stage1Points, panelTitles[1], 9, 2, false, false);
panel('c3', adaMimicPoints, panelTitles[2], 5, 2, false, false);

// ---------------- COLORBAR ----------------
const colorbarPlugin = {
  id: 'cbar',
  beforeDatasetsDraw(chart) {
    const {ctx, chartArea: a, scales: {y: ys}} = chart;
    const yTop = ys.getPixelForValue(colorbarRange[1]), yBot = ys.getPixelForValue(colorbarRange[0]);
    const g = ctx.createLinearGradient(0, yBot, 0, yTop);
    COOLWARM.forEach((c, i) => g.addColorStop(i / (COOLWARM.length - 1), 'rgba(' + c[0] + ',' + c[1] + ',' + c[2] + ',' + POINT_ALPHA + ')'));
    ctx.save();
    ctx.fillStyle = g;
    ctx.fillRect(a.left, a.top, a.right - a.left, a.bottom - a.top);
    ctx.restore();
  },
  afterDraw(chart) {
    const {ctx, chartArea: a} = chart;
    ctx.save();
    ctx.strokeStyle = '#333'; ctx.lineWidth = 1;
    const l = Math.round(a.left), t = Math.round(a.top), r = Math.round(a.right), b = Math.round(a.bottom);
    ctx.strokeRect(l - 0.5, t - 0.5, r - l + 1, b - t + 1);
    ctx.translate(45, (a.top + a.bottom) / 2);
    ctx.rotate(-Math.PI / 2);
    ctx.font = '16px ' + FONT; ctx.fillStyle = '#000'; ctx.textAlign = 'center'; ctx.textBaseline = 'middle';
    ctx.fillText(colorbarLabel, 0, 0);
    ctx.restore();
  }
};
new Chart(document.getElementById('cb'), {
  type: 'scatter',
  data: { datasets: [] },
  options: {
    responsive: false, animation: false, events: [],
    layout: { padding: { left: 4, right: 0, top: 24, bottom: 45 } },
    plugins: { legend: {display: false}, tooltip: {enabled: false} },
    scales: {
      x: { type: 'linear', display: false, min: 0, max: 1 },
      y: {
        type: 'linear', position: 'right', min: colorbarRange[0], max: colorbarRange[1],
        afterBuildTicks: s => { s.ticks = colorbarTicks.map(v => ({value: v})); },
        afterFit: s => { s.width = 41; },
        ticks: { callback: v => v.toFixed(1), font: {family: FONT, size: 8}, color: '#000', padding: 2, autoSkip: false },
        grid: { drawOnChartArea: false, drawTicks: true, tickLength: 3.5, tickColor: '#333', tickWidth: 1 },
        border: { display: false }
      }
    }
  },
  plugins: [colorbarPlugin]
});
</script>
</body></html>
